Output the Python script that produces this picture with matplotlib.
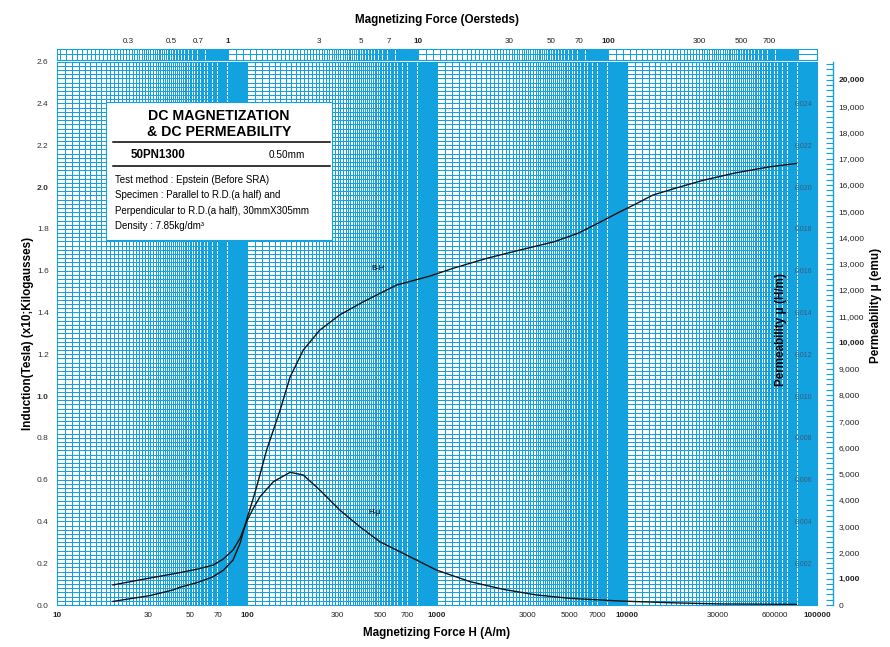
import numpy as np
import matplotlib
matplotlib.use('Agg')
import matplotlib.pyplot as plt
from matplotlib.ticker import FixedLocator, NullFormatter
from matplotlib.patches import Rectangle
from matplotlib.lines import Line2D

plt.rcParams['font.family'] = ['Liberation Sans', 'DejaVu Sans']

# ---------------- data ----------------
# B-H curve : H (A/m) and induction B (T)
h_bh = [19.7, 30.8, 40.8, 44.4, 55.0, 66.3, 75.0, 84.4, 92.0, 99.5, 106.0, 112.4,
        126.9, 149.4, 168.7, 197.8, 241.8, 307.5, 409, 612, 917, 1213, 1826, 2740,
        4120, 5490, 7000, 9190, 11280, 13700, 19000, 25300, 37300, 56300, 78000]
b_tesla = [0.017, 0.045, 0.072, 0.085, 0.108, 0.135, 0.166, 0.215, 0.296, 0.407,
           0.488, 0.566, 0.742, 0.933, 1.092, 1.22, 1.316, 1.388, 1.451, 1.531,
           1.574, 1.611, 1.659, 1.699, 1.738, 1.778, 1.826, 1.882, 1.922, 1.962,
           2.001, 2.033, 2.068, 2.097, 2.113]

# H-mu curve : H (A/m) and permeability (H/m)
h_mu = [19.7, 30.8, 44.4, 55.0, 66.3, 75.0, 84.4, 92.0, 99.5, 108.0, 117, 137.6,
        168.7, 197.8, 241.8, 307.5, 392, 500, 664, 994, 1490, 2230, 3340, 5000,
        9190, 16800, 30800, 78000]
mu_hm = [0.00096, 0.00129, 0.00155, 0.00172, 0.00191, 0.00220, 0.00263, 0.00320,
         0.00399, 0.00463, 0.00518, 0.0059, 0.00635, 0.00622, 0.0055, 0.00455,
         0.00375, 0.00303, 0.00247, 0.00167, 0.00112, 0.00075, 0.00048, 0.00032,
         0.00019, 0.00011, 0.00005, 0.00003]

# tick labels
h_ticks = [10, 30, 50, 70, 100, 300, 500, 700, 1000, 3000, 5000, 7000, 10000,
           30000, 60000, 100000]
h_labels = ['10', '30', '50', '70', '100', '300', '500', '700', '1000', '3000',
            '5000', '7000', '10000', '30000', '600000', '100000']
h_bold = ['10', '100', '1000', '10000', '100000']

oe_ticks = [0.3, 0.5, 0.7, 1, 3, 5, 7, 10, 30, 50, 70, 100, 300, 500, 700]
oe_labels = ['0.3', '0.5', '0.7', '1', '3', '5', '7', '10', '30', '50', '70',
             '100', '300', '500', '700']
oe_bold = ['1', '10', '100']

b_ticks = [0.0, 0.2, 0.4, 0.6, 0.8, 1.0, 1.2, 1.4, 1.6, 1.8, 2.0, 2.2, 2.4, 2.6]
b_labels = ['0.0', '0.2', '0.4', '0.6', '0.8', '1.0', '1.2', '1.4', '1.6', '1.8',
            '2.0', '2.2', '2.4', '2.6']
b_bold = ['1.0', '2.0']

mu_ticks = [0.002, 0.004, 0.006, 0.008, 0.010, 0.012, 0.014, 0.016, 0.018,
            0.020, 0.022, 0.024]
mu_labels = ['0.002', '0.004', '0.006', '0.008', '0.010', '0.012', '0.014',
             '0.016', '0.018', '0.020', '0.022', '0.024']

emu_ticks = [0, 1000, 2000, 3000, 4000, 5000, 6000, 7000, 8000, 9000, 10000,
             11000, 12000, 13000, 14000, 15000, 16000, 17000, 18000, 19000, 20000]
emu_labels = ['0', '1,000', '2,000', '3,000', '4,000', '5,000', '6,000', '7,000',
              '8,000', '9,000', '10,000', '11,000', '12,000', '13,000', '14,000',
              '15,000', '16,000', '17,000', '18,000', '19,000', '20,000']
emu_bold = ['1,000', '10,000', '20,000']

MU0 = 4e-7 * np.pi
AM_TO_OE = 4 * np.pi / 1000

# ---------------- layout ----------------
W, H = 890, 647
def fx(px):
    return px / W
def fy(py):
    return 1 - py / H

GRID = '#12a2df'
L, R, T, BOT = 57, 817, 61.7, 605
LBL = 8.4

fig = plt.figure(figsize=(W / 100, H / 100), dpi=100)
fig.patch.set_facecolor('white')

ax = fig.add_axes([fx(L), fy(BOT), (R - L) / W, (BOT - T) / H])
ax.set_xscale('log')
ax.set_xlim(10, 100000)
ax.set_ylim(0, 2.6)
ax.set_axisbelow(True)

xgrid = [k / 10 * 10 ** d for d in range(1, 5) for k in range(10, 100)] + [1e5]
ax.xaxis.set_minor_locator(FixedLocator(xgrid))
ax.xaxis.set_minor_formatter(NullFormatter())
ax.xaxis.remove_overlapping_locs = False
ax.set_xticks(h_ticks, labels=h_labels)
ax.set_yticks(b_ticks, labels=b_labels)
ax.yaxis.set_minor_locator(FixedLocator(np.arange(0, 2.6001, 0.02)))
ax.yaxis.remove_overlapping_locs = False
ax.grid(which='both', axis='both', color=GRID, lw=0.72, antialiased=False)
ax.tick_params(which='both', length=0)
ax.tick_params(axis='x', labelsize=5.8, pad=5, labelcolor='#222222')
ax.tick_params(axis='y', labelsize=6, pad=6, labelcolor='#333333')
for t in ax.get_xticklabels():
    if t.get_text() in h_bold:
        t.set_fontweight('bold')
for t in ax.get_yticklabels():
    if t.get_text() in b_bold:
        t.set_fontweight('bold')
for s in ax.spines.values():
    s.set_color(GRID)
    s.set_linewidth(0.8)
ax.set_xlabel('Magnetizing Force H (A/m)', fontsize=LBL, fontweight='bold', labelpad=6)
ax.set_ylabel('Induction(Tesla) (x10;Kilogausses)', fontsize=LBL, fontweight='bold', labelpad=2)

ax.plot(h_bh, b_tesla, color='#111111', lw=1.0, zorder=5)

# permeability axes (H/m)
axm = ax.twinx()
axm.set_ylim(0, 0.026)
axm.plot(h_mu, mu_hm, color='#111111', lw=1.0, zorder=5)
axm.set_yticks(mu_ticks, labels=mu_labels)
axm.tick_params(axis='y', length=0, pad=-16, labelsize=5, labelcolor='#3d5a78')
for s in axm.spines.values():
    s.set_visible(False)
axm.set_ylabel('Permeability μ (H/m)', fontsize=LBL, fontweight='bold')
axm.yaxis.set_label_coords((775 - L) / (R - L), (BOT - 329) / (BOT - T))

# permeability axes (emu)
sec = axm.secondary_yaxis((833 - L) / (R - L), functions=(lambda m: m / MU0, lambda e: e * MU0))
sec.set_yticks(emu_ticks, labels=emu_labels)
sec.yaxis.set_minor_locator(FixedLocator(np.arange(0, 20601, 200)))
sec.tick_params(axis='y', which='both', direction='in', length=5, width=0.8,
                color=GRID, labelsize=6, pad=4, labelcolor='#222222')
for t in sec.get_yticklabels():
    if t.get_text() in emu_bold:
        t.set_fontweight('bold')
for s in sec.spines.values():
    s.set_color(GRID)
    s.set_linewidth(1.0)
sec.set_ylabel('Permeability μ (emu)', fontsize=LBL, fontweight='bold')
sec.yaxis.set_label_coords((870 - L) / (R - L), (BOT - 305) / (BOT - T),
                           transform=ax.transAxes)

# Oersted strip on top
strip = fig.add_axes([fx(L), fy(59.5), (R - L) / W, 10.5 / H])
strip.set_xscale('log')
strip.set_xlim(10 * AM_TO_OE, 100000 * AM_TO_OE)
strip.set_ylim(0, 2)
oegrid = [k / 10 * 10 ** d for d in range(-1, 3) for k in range(10, 100)] + [1000]
strip.xaxis.set_minor_locator(FixedLocator(oegrid))
strip.xaxis.set_minor_formatter(NullFormatter())
strip.xaxis.remove_overlapping_locs = False
strip.xaxis.tick_top()
strip.set_xticks(oe_ticks, labels=oe_labels)
strip.set_yticks([0, 1, 2])
strip.set_yticklabels([])
strip.grid(which='both', axis='both', color=GRID, lw=0.72, antialiased=False)
strip.tick_params(which='both', length=0)
strip.tick_params(axis='x', labelsize=5.8, pad=3, labelcolor='#222222')
for t in strip.get_xticklabels():
    if t.get_text() in oe_bold:
        t.set_fontweight('bold')
for s in strip.spines.values():
    s.set_color(GRID)
    s.set_linewidth(0.8)
strip.xaxis.set_label_position('top')
strip.set_xlabel('Magnetizing Force (Oersteds)', fontsize=LBL, fontweight='bold', labelpad=11)

# info box
bx0, by0, bx1, by1 = 106, 102, 332, 240
fig.add_artist(Rectangle((fx(bx0), fy(by1)), (bx1 - bx0) / W, (by1 - by0) / H,
                         transform=fig.transFigure, facecolor='white',
                         edgecolor=GRID, lw=0.8, zorder=10))
for yy in (141.5, 166.5):
    fig.add_artist(Line2D([fx(113), fx(330)], [fy(yy), fy(yy)], transform=fig.transFigure,
                          color='black', lw=1.1, zorder=11))
fig.text(fx(219), fy(115.5), 'DC MAGNETIZATION', ha='center', va='center',
         fontsize=10.2, fontweight='bold', zorder=12)
fig.text(fx(219), fy(131.5), '& DC PERMEABILITY', ha='center', va='center',
         fontsize=10.2, fontweight='bold', zorder=12)
fig.text(fx(158), fy(154.5), '50PN1300', ha='center', va='center',
         fontsize=8.3, fontweight='bold', zorder=12)
fig.text(fx(287), fy(155), '0.50mm', ha='center', va='center', fontsize=7.2, zorder=12)
body = ['Test method : Epstein (Before SRA)',
        'Specimen : Parallel to R.D.(a half) and',
        'Perpendicular to R.D.(a half), 30mmX305mm',
        'Density : 7.85kg/dm³']
for i, line in enumerate(body):
    fig.text(fx(115), fy(180 + i * 15.3), line, ha='left', va='center',
             fontsize=7, zorder=12)

# curve labels
fig.text(fx(378), fy(268), 'B-H', ha='center', va='center', fontsize=5.5, zorder=12)
fig.text(fx(375), fy(513), 'H-μ', ha='center', va='center', fontsize=5.5, zorder=12)

fig.savefig('out.png', dpi=100, facecolor='white')
